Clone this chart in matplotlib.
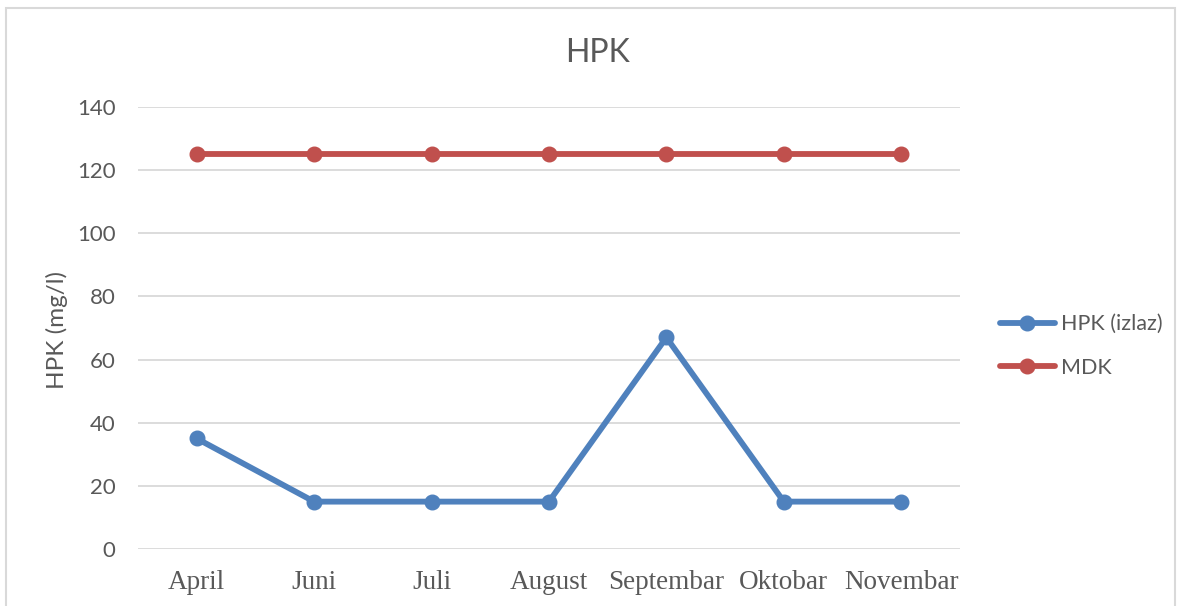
import matplotlib.pyplot as plt
from matplotlib.patches import Rectangle

months = ["April", "Juni", "Juli", "August", "Septembar", "Oktobar", "Novembar"]
hpk_izlaz = [35, 15, 15, 15, 67, 15, 15]
mdk = [125, 125, 125, 125, 125, 125, 125]
yticks = [0, 20, 40, 60, 80, 100, 120, 140]

blue = "#4F81BD"
red = "#C0504D"
gray = "#595959"

fig = plt.figure(figsize=(11.78, 6.06), dpi=100)
ax = fig.add_axes([0.1171, 0.0941, 0.6978, 0.7293])

x = range(len(months))
ax.plot(x, hpk_izlaz, color=blue, lw=4.2, marker="o", markersize=10.5,
        label="HPK (izlaz)", solid_capstyle="round")
ax.plot(x, mdk, color=red, lw=4.2, marker="o", markersize=10.5,
        label="MDK", solid_capstyle="round")

ax.set_xlim(-0.5, len(months) - 0.5)
ax.set_ylim(0, 140)
ax.set_yticks(yticks)
ax.set_xticks(list(x))
ax.set_xticklabels(months, family="Liberation Serif", fontsize=19.5, color=gray)
for lab in ax.get_yticklabels():
    lab.set_family("Lato")
    lab.set_fontsize(16)
    lab.set_color(gray)
ax.tick_params(axis="both", length=0)
ax.tick_params(axis="y", pad=16)
ax.tick_params(axis="x", pad=15)
ax.grid(axis="y", color="#D9D9D9", lw=1.3)
ax.set_axisbelow(True)
for s in ax.spines.values():
    s.set_visible(False)

fig.text(57 / 1178, 1 - 330 / 606, "HPK (mg/l)", rotation=90, ha="center", va="center",
         family="Lato", fontsize=17.5, color=gray)
fig.text(598 / 1178, 1 - 53 / 606, "HPK", ha="center", va="center",
         family="Lato", fontsize=23, color=gray)

leg = fig.legend(loc="center left", bbox_to_anchor=(1000 / 1178, 1 - 346 / 606),
                 frameon=False, prop={"family": "Lato", "size": 15.5}, labelcolor=gray,
                 handlelength=2.55, handletextpad=0.3, labelspacing=1.1, borderpad=0,
                 borderaxespad=0)

# chart frame
fig.patches.append(Rectangle((6 / 1178, -0.05), 1169 / 1178, 1.05 - 8 / 606,
                             transform=fig.transFigure, fill=False,
                             edgecolor="#D9D9D9", lw=1.5))

fig.savefig("out.png", dpi=100)
